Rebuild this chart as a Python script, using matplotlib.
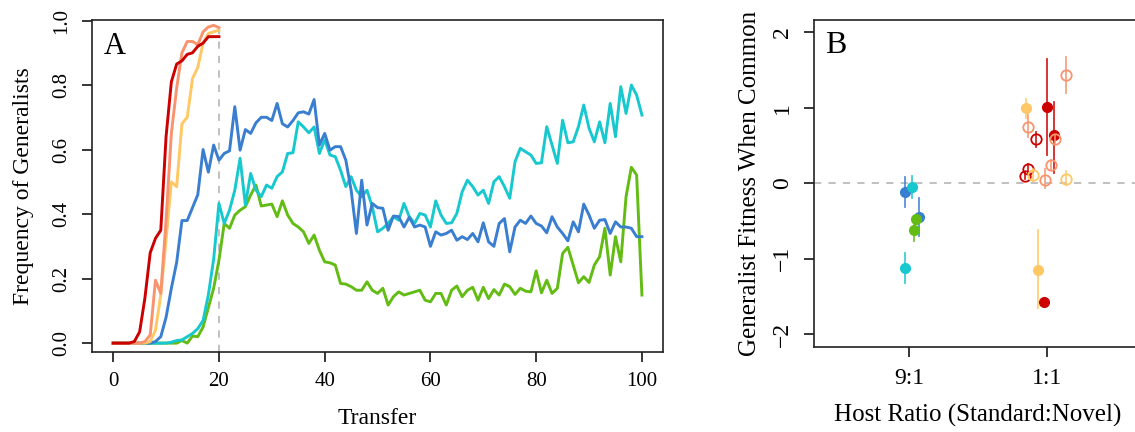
import matplotlib
matplotlib.use("Agg")
import matplotlib.pyplot as plt
import numpy as np

plt.rcParams['font.family'] = ['Liberation Serif', 'DejaVu Serif']

# ---- panel A data: frequency of generalists per transfer ----
transfer_short = list(range(0, 21))
transfer_long = list(range(0, 101))

red_freq = [0, 0, 0, 0, 0.005, 0.035, 0.14, 0.28, 0.325, 0.35, 0.64,
            0.81, 0.865, 0.875, 0.895, 0.90, 0.92, 0.93, 0.95, 0.95, 0.95]
salmon_freq = [0, 0, 0, 0, 0, 0, 0.005, 0.025, 0.195, 0.154, 0.38,
               0.65, 0.79, 0.90, 0.935, 0.935, 0.925, 0.965, 0.98, 0.985, 0.978]
yellow_freq = [0, 0, 0, 0, 0, 0, 0, 0.005, 0.04, 0.15, 0.32,
               0.50, 0.485, 0.68, 0.70, 0.82, 0.855, 0.93, 0.96, 0.965, 0.97]

blue_freq = [0, 0, 0, 0, 0, 0, 0, 0, 0.005,
             0.02, 0.08, 0.17, 0.25, 0.38, 0.38, 0.42, 0.46, 0.60, 0.53, 0.614,
             0.567, 0.588, 0.596, 0.733, 0.598, 0.662, 0.65, 0.683, 0.70, 0.70,
             0.69, 0.743, 0.68, 0.67, 0.69, 0.714, 0.717, 0.71, 0.755, 0.614,
             0.65, 0.598, 0.609, 0.609, 0.567, 0.474, 0.34, 0.505, 0.366, 0.433,
             0.42, 0.418, 0.35, 0.394, 0.392, 0.36, 0.39, 0.36, 0.366, 0.36,
             0.30, 0.345, 0.335, 0.34, 0.35, 0.319, 0.33, 0.321, 0.34, 0.314,
             0.373, 0.314, 0.30, 0.371, 0.386, 0.283, 0.36, 0.381, 0.371, 0.394,
             0.371, 0.363, 0.342, 0.392, 0.36, 0.34, 0.317, 0.376, 0.345, 0.431,
             0.397, 0.356, 0.381, 0.383, 0.34, 0.376, 0.36, 0.36, 0.356, 0.33, 0.33]

cyan_freq = [0, 0, 0, 0, 0, 0, 0, 0, 0, 0, 0,
             0.003, 0.008, 0.01, 0.02, 0.03, 0.045, 0.07, 0.15, 0.26,
             0.433, 0.371, 0.412, 0.474, 0.573, 0.428, 0.526, 0.474, 0.454, 0.49,
             0.48, 0.516, 0.531, 0.588, 0.59, 0.686, 0.67, 0.652, 0.67, 0.588,
             0.63, 0.583, 0.578, 0.536, 0.485, 0.516, 0.474, 0.454, 0.474, 0.423,
             0.345, 0.356, 0.371, 0.392, 0.381, 0.433, 0.392, 0.371, 0.402, 0.397,
             0.36, 0.441, 0.397, 0.371, 0.373, 0.402, 0.469, 0.505, 0.485, 0.459,
             0.474, 0.433, 0.50, 0.516, 0.485, 0.449, 0.562, 0.604, 0.593, 0.583,
             0.557, 0.559, 0.671, 0.614, 0.557, 0.691, 0.621, 0.624, 0.671, 0.738,
             0.666, 0.624, 0.686, 0.621, 0.743, 0.64, 0.795, 0.712, 0.80, 0.769, 0.707]

green_freq = [0, 0, 0, 0, 0, 0, 0, 0, 0, 0, 0, 0, 0,
              0.008, 0.0, 0.022, 0.02, 0.05, 0.11, 0.17,
              0.257, 0.371, 0.356, 0.397, 0.412, 0.423, 0.459, 0.49, 0.425, 0.428,
              0.431, 0.392, 0.441, 0.397, 0.371, 0.36, 0.345, 0.309, 0.335, 0.288,
              0.252, 0.249, 0.242, 0.185, 0.183, 0.175, 0.164, 0.164, 0.19, 0.164,
              0.154, 0.17, 0.118, 0.144, 0.159, 0.149, 0.154, 0.159, 0.164, 0.133,
              0.128, 0.154, 0.154, 0.118, 0.164, 0.177, 0.144, 0.164, 0.173, 0.133,
              0.173, 0.138, 0.166, 0.149, 0.183, 0.175, 0.151, 0.17, 0.161, 0.159,
              0.224, 0.156, 0.195, 0.154, 0.17, 0.278, 0.297, 0.242, 0.187, 0.206,
              0.188, 0.242, 0.268, 0.356, 0.211, 0.33, 0.252, 0.454, 0.545, 0.521, 0.149]

# ---- panel B data: generalist fitness when common ----
ratio_labels = ["9:1", "1:1"]
# group index (1 = 9:1, 2 = 1:1) plus jitter, estimate, error bar ends
b_x = [0.971, 1.022, 1.072, 1.053, 1.039, 0.974,
       1.848, 1.860, 1.920, 2.002, 2.048, 2.060, 2.134, 1.862, 1.843,
       1.896, 2.026, 1.988, 2.139, 1.932, 1.976]
b_y = [-0.12, -0.05, -0.45, -0.48, -0.62, -1.12,
       0.99, 0.75, 0.58, 1.01, 0.645, 0.58, 1.43, 0.19, 0.10,
       0.11, 0.24, 0.04, 0.06, -1.15, -1.57]
b_lo = [-0.31, -0.20, -0.70, -0.52, -0.77, -1.32,
        0.87, 0.61, 0.48, 0.37, 0.13, 0.52, 1.19, 0.14, 0.05,
        0.03, 0.17, -0.07, -0.03, -1.66, -1.60]
b_hi = [0.08, 0.10, -0.20, -0.42, -0.50, -0.92,
        1.12, 0.90, 0.68, 1.65, 1.07, 0.64, 1.67, 0.25, 0.15,
        0.19, 0.31, 0.19, 0.16, -0.62, -1.54]
b_group = ["blue", "cyan", "blue", "green", "green", "cyan",
           "yellow", "salmon", "red", "red", "red", "salmon", "salmon", "red", "red",
           "yellow", "salmon", "salmon", "yellow", "yellow", "red"]
b_filled = [True, True, True, True, True, True,
            True, False, False, True, True, False, False, False, False,
            False, False, False, False, True, True]

colors = {"red": "#CC0000", "salmon": "#F8936E", "yellow": "#FFC864",
          "blue": "#3A7ECF", "cyan": "#17C8CF", "green": "#63BC14"}

fig = plt.figure(figsize=(11.35, 4.32), dpi=100)

# ---------- panel A ----------
ax = fig.add_axes([0.0811, 0.1863, 0.5031, 0.7674])
lw = 2.1
ax.plot(transfer_long, green_freq, color=colors["green"], lw=lw)
ax.plot(transfer_long, cyan_freq, color=colors["cyan"], lw=lw)
ax.plot(transfer_long, blue_freq, color=colors["blue"], lw=lw)
ax.plot(transfer_short, yellow_freq, color=colors["yellow"], lw=lw)
ax.plot(transfer_short, salmon_freq, color=colors["salmon"], lw=lw)
ax.plot(transfer_short, red_freq, color=colors["red"], lw=lw)
ax.axvline(20, color="#BBBBBB", ls=(0, (4, 4)), lw=1.3, zorder=0)
ax.set_xlim(-4, 104)
ax.set_ylim(-0.026, 1.0016)
ax.set_xticks([0, 20, 40, 60, 80, 100])
ax.set_yticks([0.0, 0.2, 0.4, 0.6, 0.8, 1.0])
ax.set_yticklabels(["0.0", "0.2", "0.4", "0.6", "0.8", "1.0"])
ax.set_xlabel("Transfer", fontsize=17, labelpad=12)
ax.set_ylabel("Frequency of Generalists", fontsize=17, labelpad=13)
ax.text(0.02, 0.965, "A", transform=ax.transAxes, fontsize=22,
        ha="left", va="top")
ax.tick_params(labelsize=15)

# ---------- panel B ----------
bx = fig.add_axes([0.7172, 0.1975, 0.2890, 0.7562])
bx.axhline(0, color="#BBBBBB", ls=(0, (4, 4)), lw=1.3, zorder=0)
for i in range(len(b_x)):
    c = colors[b_group[i]]
    bx.plot([b_x[i], b_x[i]], [b_lo[i], b_hi[i]], color=c, lw=1.3, alpha=0.85)
    if b_filled[i]:
        bx.plot(b_x[i], b_y[i], "o", color=c, ms=7)
    else:
        bx.plot(b_x[i], b_y[i], "o", mfc="none", mec=c, mew=1.3, ms=7.5)
bx.set_xlim(0.312, 2.688)
bx.set_ylim(-2.168, 2.163)
bx.set_xticks([1, 2])
bx.set_xticklabels(ratio_labels)
bx.set_yticks([-2, -1, 0, 1, 2])
bx.set_yticklabels(["\u22122", "\u22121", "0", "1", "2"])
bx.set_xlabel("Host Ratio (Standard:Novel)", fontsize=18, labelpad=11)
bx.set_ylabel("Generalist Fitness When Common", fontsize=18, labelpad=8)
bx.text(0.035, 0.965, "B", transform=bx.transAxes, fontsize=23,
        ha="left", va="top")
bx.tick_params(labelsize=17)

for a in (ax, bx):
    for s in a.spines.values():
        s.set_linewidth(1.2)
        s.set_color("#222222")
    a.tick_params(direction="out", length=7, width=1.1, pad=8)
    a.tick_params(axis="y", labelrotation=90)
    for lbl in a.get_yticklabels():
        lbl.set_va("center")

fig.savefig("out.png", dpi=100)
